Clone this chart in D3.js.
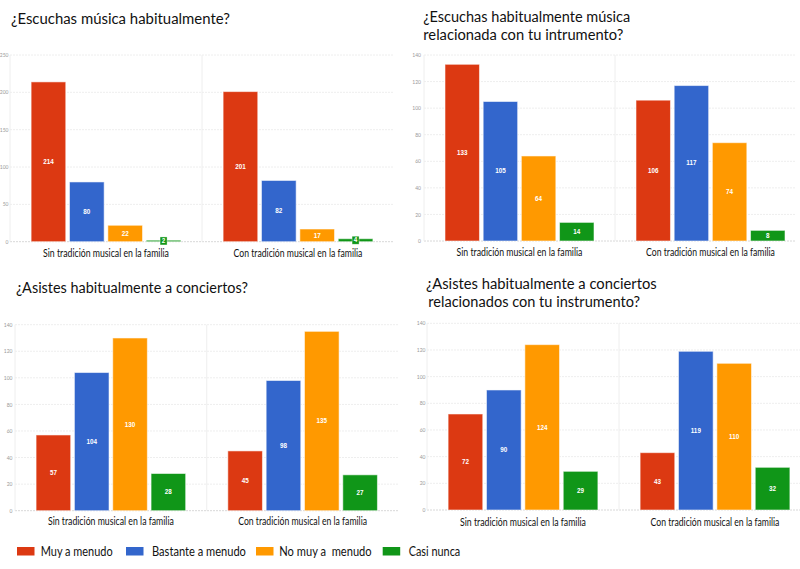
<!DOCTYPE html>
<html><head><meta charset="utf-8">
<script src="https://cdn.jsdelivr.net/npm/d3@7"></script>
<style>
body{margin:0;background:#fff;}
svg{display:block;}
</style></head>
<body>
<svg id="c" width="800" height="569"></svg>
<script>
const categories = ["Sin tradición musical en la familia", "Con tradición musical en la familia"];
const seriesNames = ["Muy a menudo", "Bastante a menudo", "No muy a  menudo", "Casi nunca"];
const colors = ["#dc3912", "#3366cc", "#ff9900", "#109618"];
// values per category: [Muy, Bastante, No muy, Casi nunca]
const escuchaMusica = [[214, 80, 22, 2], [201, 82, 17, 4]];
const escuchaInstrumento = [[133, 105, 64, 14], [106, 117, 74, 8]];
const asisteConciertos = [[57, 104, 130, 28], [45, 98, 135, 27]];
const asisteInstrumento = [[72, 90, 124, 29], [43, 119, 110, 32]];
const ticksA = [0, 50, 100, 150, 200, 250];
const ticksB = [0, 20, 40, 60, 80, 100, 120, 140];
const titles = [
  ["¿Escuchas música habitualmente?"],
  ["¿Escuchas habitualmente música", "relacionada con tu intrumento?"],
  ["¿Asistes habitualmente a conciertos?"],
  ["¿Asistes habitualmente a conciertos", "relacionados con tu instrumento?"]
];

const FONT = "Lato, 'Open Sans', sans-serif";
const svg = d3.select("#c");

// place a text at (x,y) compressed horizontally to width w
function fitText(parent, str, x, y, w, size, anchor, fill) {
  const t = parent.append("text")
    .attr("font-family", FONT).attr("font-size", size).attr("fill", fill)
    .attr("text-anchor", anchor || "start").style("white-space", "pre")
    .text(str);
  const nat = t.node().getComputedTextLength();
  const s = Math.min(1.2, w / nat);
  t.attr("transform", `translate(${x},${y}) scale(${s},1)`);
  return t;
}

const panels = [
  {data: escuchaMusica, ticks: ticksA, x0: 10, x1: 394, yTop: 55, yZero: 241.7, gridRight: 394, tickX: 8.5, labY: 256.5,
   title: titles[0], tx: [11], ty: [24], tw: [219]},
  {data: escuchaInstrumento, ticks: ticksB, x0: 424, x1: 806, yTop: 55, yZero: 241, gridRight: 796, tickX: 421, labY: 256,
   title: titles[1], tx: [423.3, 423.3], ty: [21.5, 40], tw: [207, 200]},
  {data: asisteConciertos, ticks: ticksB, x0: 15, x1: 398.5, yTop: 324.7, yZero: 510.7, gridRight: 398, tickX: 12.5, labY: 525,
   title: titles[2], tx: [16], ty: [293.3], tw: [232]},
  {data: asisteInstrumento, ticks: ticksB, x0: 427, x1: 811, yTop: 323.3, yZero: 510, gridRight: 800, tickX: 425.5, labY: 525.5,
   title: titles[3], tx: [426, 428.3], ty: [289.3, 306.7], tw: [230.7, 211.7]}
];
const catLabelW = [126, 129];

panels.forEach(p => {
  const g = svg.append("g");
  const maxT = p.ticks[p.ticks.length - 1];
  const y = d3.scaleLinear().domain([0, maxT]).range([p.yZero, p.yTop]);
  const x = d3.scaleBand().domain(categories).range([p.x0, p.x1]).padding(0);
  const xi = d3.scaleBand().domain(seriesNames).range([0, x.bandwidth()]).paddingInner(0.097).paddingOuter(0.55);

  // gridlines
  g.append("g").selectAll("line").data(p.ticks).join("line")
    .attr("x1", p.x0).attr("x2", p.gridRight)
    .attr("y1", d => y(d)).attr("y2", d => y(d))
    .attr("stroke", d => d === 0 ? "#d8d8d8" : "#eeeeee")
    .attr("stroke-width", 1)
    .attr("stroke-dasharray", "2,1");
  // vertical lines: left edge and category divider
  g.append("g").selectAll("line").data([p.x0, p.x0 + x.bandwidth()]).join("line")
    .attr("x1", d => d).attr("x2", d => d)
    .attr("y1", p.yTop).attr("y2", p.yZero)
    .attr("stroke", "#eeeeee").attr("stroke-width", 1);

  // y tick labels via axis
  const ax = g.append("g").attr("transform", `translate(${p.tickX},0)`)
    .call(d3.axisLeft(y).tickValues(p.ticks).tickSize(0).tickPadding(0));
  ax.select(".domain").remove();
  ax.selectAll("text").attr("font-family", FONT).attr("font-size", 5).attr("fill", "#999");

  // bars
  categories.forEach((cat, ci) => {
    const vals = p.data[ci];
    const gg = g.append("g").attr("transform", `translate(${x(cat)},0)`);
    gg.selectAll("rect.bar").data(vals).join("rect").attr("class", "bar")
      .attr("x", (d, i) => xi(seriesNames[i]))
      .attr("width", xi.bandwidth())
      .attr("y", d => y(d))
      .attr("height", d => y(0) - y(d))
      .attr("fill", (d, i) => colors[i])
      .attr("stroke", "rgba(255,255,255,0.55)").attr("stroke-width", 1);
    // small-value label boxes
    gg.selectAll("rect.lb").data(vals.map((v, i) => ({v, i})).filter(o => y(0) - y(o.v) < 8)).join("rect").attr("class", "lb")
      .attr("x", o => xi(seriesNames[o.i]) + xi.bandwidth() / 2 - 3.5)
      .attr("y", o => (y(o.v) + y(0)) / 2 - 4)
      .attr("width", 7).attr("height", 8)
      .attr("fill", o => colors[o.i]).attr("stroke", "rgba(255,255,255,0.6)").attr("stroke-width", 0.6);
    gg.selectAll("text.val").data(vals).join("text").attr("class", "val")
      .attr("x", (d, i) => xi(seriesNames[i]) + xi.bandwidth() / 2)
      .attr("y", d => (y(d) + y(0)) / 2)
      .attr("dy", "0.35em")
      .attr("text-anchor", "middle")
      .attr("font-family", "'Liberation Sans', Arial, sans-serif")
      .attr("font-weight", "bold")
      .attr("font-size", 6.3)
      .attr("fill", "#fff")
      .text(d => d);
    // category label
    fitText(g, cat, x(cat) + x.bandwidth() / 2, p.labY, catLabelW[ci], 11, "middle", "#111");
  });

  // title
  p.title.forEach((t, k) => {
    fitText(svg, t, p.tx[k], p.ty[k], p.tw[k], 14.6, "start", "#111");
  });
});

// legend
const legX = [17, 126, 256, 382.7];
const legTX = [40.7, 152, 279.3, 408.7];
const legTW = [72, 94, 92.4, 51.6];
const lg = svg.append("g");
seriesNames.forEach((s, i) => {
  lg.append("rect").attr("x", legX[i]).attr("y", 547).attr("width", 17.5).attr("height", 8.5).attr("fill", colors[i]);
  fitText(lg, s, legTX[i], 556, legTW[i], 12.5, "start", "#111");
});
</script>
</body></html>
